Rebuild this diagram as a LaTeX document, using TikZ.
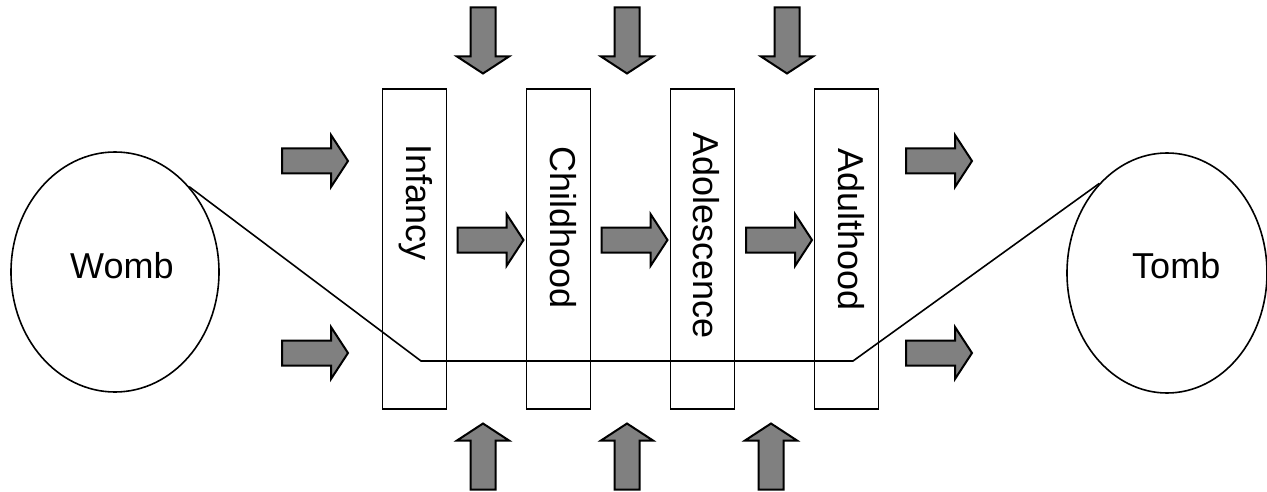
\documentclass[tikz,border=0pt]{standalone}
\usepackage{fontspec}
\setmainfont{Liberation Sans}
\usetikzlibrary{shapes.geometric}
\begin{document}
\begin{tikzpicture}[x=1pt,y=-1pt,
  stage/.style={draw=black,line width=1.6pt,minimum width=64pt,minimum height=320pt,inner sep=0pt},
  pod/.style={ellipse,draw=black,line width=1.6pt,inner sep=0pt},
  lbl/.style={inner sep=0pt,font=\fontsize{36}{43}\selectfont},
  vlbl/.style={lbl,rotate=-90,anchor=base west},
  blk/.style={fill=gray,draw=black,line width=2pt,line join=miter},
  barrow/.pic={\path[blk] (-33,-12.5) -- (16,-12.5) -- (16,-26) -- (33,0) -- (16,26) -- (16,12.5) -- (-33,12.5) -- cycle;}
]
\useasboundingbox (0,0) rectangle (1267,492);

% womb and tomb
\node[pod,minimum width=208pt,minimum height=240pt] (womb) at (115,272) {};
\node[pod,minimum width=200pt,minimum height=240pt] (tomb) at (1167,273) {};
\node[lbl,anchor=base west] (twomb) at (70,278) {Womb};
\node[lbl,anchor=base west] (ttomb) at (1132,278) {Tomb};

% stages
\node[stage] (s1) at (414.5,249) {};
\node[stage] (s2) at (558.5,249) {};
\node[stage] (s3) at (702.5,249) {};
\node[stage] (s4) at (846.5,249) {};
\node[vlbl] (t1) at (406,144.6) {Infancy};
\node[vlbl] (t2) at (550,146) {Childhood};
\node[vlbl] (t3) at (693,132) {Adolescence};
\node[vlbl] (t4) at (838,148) {Adulthood};

% life line
\coordinate (c1) at (421,361);
\coordinate (c2) at (853,361);
\draw[line width=1.6pt,line join=miter] (womb.49.7) -- (c1) -- (c2) -- (tomb.127.6);

% right arrows
\pic at (315,161) {barrow};
\pic at (315,353) {barrow};
\pic at (939,161) {barrow};
\pic at (939,353) {barrow};
\pic at (490.5,240) {barrow};
\pic at (634.5,240) {barrow};
\pic at (779,240) {barrow};

% down arrows
\pic[rotate=-90] at (483,40.5) {barrow};
\pic[rotate=-90] at (627,40.5) {barrow};
\pic[rotate=-90] at (787,40.5) {barrow};

% up arrows
\pic[rotate=90] at (483,456.5) {barrow};
\pic[rotate=90] at (627,456.5) {barrow};
\pic[rotate=90] at (771,456.5) {barrow};
\end{tikzpicture}
\end{document}
